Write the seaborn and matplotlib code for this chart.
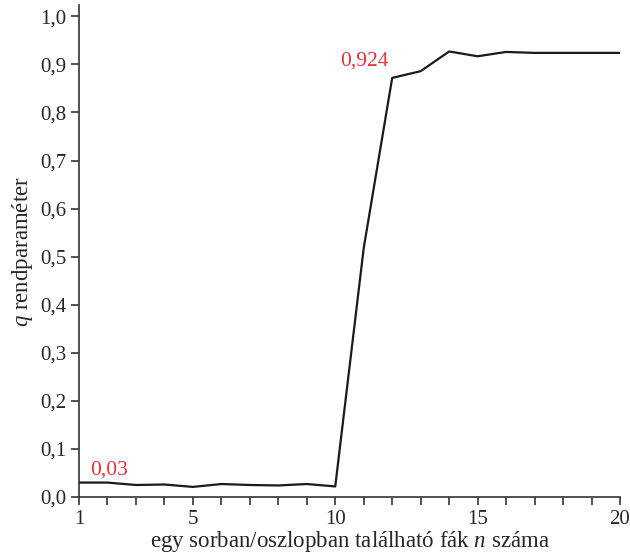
import matplotlib
matplotlib.use("Agg")
import matplotlib.pyplot as plt
import seaborn as sns
import pandas as pd
from matplotlib.ticker import FuncFormatter, MultipleLocator

# fák száma egy sorban/oszlopban és a q rendparaméter
n_values = list(range(1, 21))
q_values = [0.030, 0.030, 0.025, 0.026, 0.021, 0.027, 0.025, 0.024, 0.027, 0.022,
            0.518, 0.872, 0.886, 0.927, 0.917, 0.926, 0.924, 0.924, 0.924, 0.924]
x_ticks = [1, 5, 10, 15, 20]
y_ticks = [0.0, 0.1, 0.2, 0.3, 0.4, 0.5, 0.6, 0.7, 0.8, 0.9, 1.0]
labels = [(1, 0.030, "0,03"), (12, 0.924, "0,924")]

df = pd.DataFrame({"n": n_values, "q": q_values})

sns.set_style("ticks")
plt.rcParams["font.family"] = ["Liberation Serif", "DejaVu Serif"]
plt.rcParams["mathtext.fontset"] = "custom"
plt.rcParams["mathtext.it"] = "Liberation Serif:italic"
plt.rcParams["mathtext.rm"] = "Liberation Serif"

fig = plt.figure(figsize=(6.3, 5.6), dpi=100)
ax = fig.add_axes([0.1254, 0.1125, 0.8587, 0.878])

sns.lineplot(data=df, x="n", y="q", color="#1a1a1a", linewidth=1.6, ax=ax)

ax.set_xlim(1, 20)
ax.set_ylim(0, 1.023)
ax.set_xticks(x_ticks)
ax.xaxis.set_minor_locator(MultipleLocator(1))
ax.set_yticks(y_ticks)
ax.yaxis.set_major_formatter(FuncFormatter(lambda v, p: f"{v:.1f}".replace(".", ",")))
ax.tick_params(axis="both", which="major", labelsize=15, length=6, width=1.2, color="#333333", pad=3)
ax.tick_params(axis="x", which="minor", length=6, width=1.2, color="#333333")
for s in ["top", "right"]:
    ax.spines[s].set_visible(False)
for s in ["left", "bottom"]:
    ax.spines[s].set_linewidth(1.2)
    ax.spines[s].set_color("#333333")

ax.set_xlabel("egy sorban/oszlopban található fák $n$ száma", fontsize=16.5, labelpad=0)
ax.set_ylabel("$q$ rendparaméter", fontsize=16.5, labelpad=4)

# piros értékcímkék
ax.text(labels[0][0] + 0.38, labels[0][1] + 0.006, labels[0][2], color="#e8303a",
        fontsize=15.5, ha="left", va="bottom")
ax.text(labels[1][0] - 0.12, 0.908, labels[1][2], color="#e8303a",
        fontsize=15.5, ha="right", va="center")

fig.savefig("out.png", dpi=100)
